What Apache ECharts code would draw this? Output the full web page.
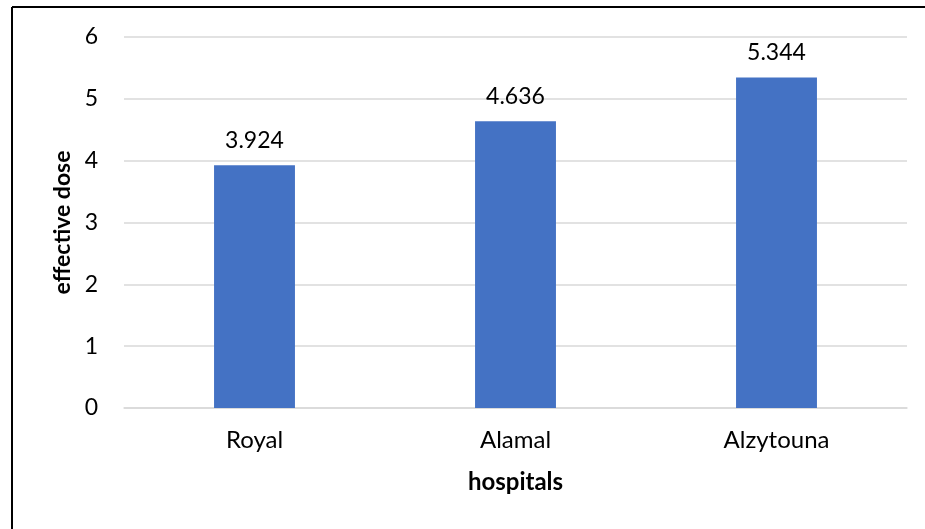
<!DOCTYPE html>
<html>
<head>
<meta charset="utf-8">
<script src="https://cdn.jsdelivr.net/npm/echarts@6/dist/echarts.min.js"></script>
<style>
  html, body { margin: 0; padding: 0; background: #fff; }
  #chart { width: 925px; height: 529px; }
</style>
</head>
<body>
<div id="chart"></div>
<script>
const hospitals = ['Royal', 'Alamal', 'Alzytouna'];
const effectiveDose = [3.924, 4.636, 5.344];
const yTicks = [0, 1, 2, 3, 4, 5, 6];

const myChart = echarts.init(document.getElementById('chart'));
const option = {
  animation: false,
  textStyle: { fontFamily: 'Lato' },
  grid: {
    left: 124,
    right: 18,
    top: 37,
    bottom: 121
  },
  // outer frame (top + left edges only, as in the cropped original)
  graphic: [
    { type: 'line', shape: { x1: 12, y1: 7, x2: 925, y2: 7 }, style: { stroke: '#000', lineWidth: 2 } },
    { type: 'line', shape: { x1: 12, y1: 7, x2: 12, y2: 529 }, style: { stroke: '#000', lineWidth: 2 } }
  ],
  xAxis: {
    type: 'category',
    data: hospitals,
    name: 'hospitals',
    nameLocation: 'middle',
    nameGap: 62,
    nameTextStyle: { fontFamily: 'Lato', fontWeight: 'bold', fontSize: 24, color: '#000' },
    axisLine: { lineStyle: { color: '#D9D9D9', width: 1.5 } },
    axisTick: { show: false },
    axisLabel: { fontSize: 24, color: '#000', margin: 20 }
  },
  yAxis: {
    type: 'value',
    min: yTicks[0],
    max: yTicks[yTicks.length - 1],
    interval: 1,
    name: 'effective dose',
    nameLocation: 'middle',
    nameGap: 50,
    nameTextStyle: { fontFamily: 'Lato', fontWeight: 'bold', fontSize: 23, color: '#000' },
    axisLine: { show: false },
    axisTick: { show: false },
    axisLabel: { fontSize: 23, color: '#000', margin: 26 },
    splitLine: { lineStyle: { color: '#D9D9D9', width: 1.5 } }
  },
  series: [
    {
      name: 'effective dose',
      type: 'bar',
      data: effectiveDose,
      barWidth: '31%',
      itemStyle: { color: '#4472C4' },
      label: {
        show: true,
        position: 'top',
        distance: 13,
        fontSize: 23,
        color: '#000',
        formatter: '{c}'
      }
    }
  ]
};

myChart.setOption(option);
window.addEventListener('resize', function () {
  myChart.resize();
});
</script>
</body>
</html>
